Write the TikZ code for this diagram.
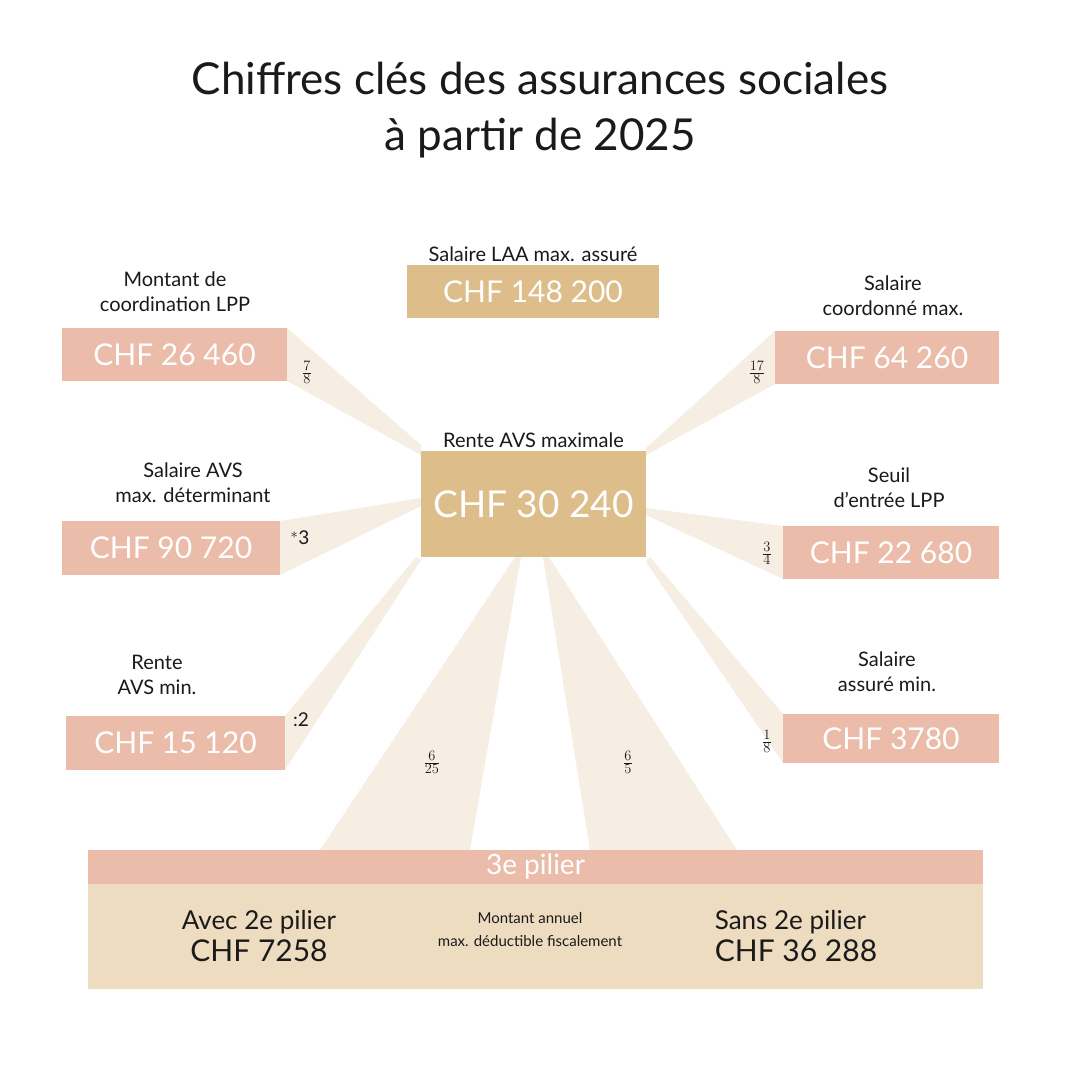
\documentclass[tikz,border=0pt]{standalone}
\usepackage{fontspec}
\setmainfont{Lato}
\definecolor{gold}{HTML}{DDBE8A}
\definecolor{pinkb}{HTML}{EBBCA9}
\definecolor{fan}{HTML}{F6EEE3}
\definecolor{body}{HTML}{EEDCC1}
\definecolor{txt}{HTML}{1A1A1A}
\begin{document}
\begin{tikzpicture}[x=1pt,y=-1pt,
  lbl/.style={font=\fontsize{20}{25}\selectfont,text=txt,align=center},
  num/.style={font=\fontsize{30}{34}\selectfont,text=white},
  frac/.style={font=\fontsize{19}{22}\selectfont,text=txt},
  fanf/.style={fill=fan}]
\useasboundingbox (0,0) rectangle (1080,1080);
\fill[white] (0,0) rectangle (1080,1080);
% fans
\fill[fanf] (287,328) -- (287,381) -- (421,455) -- (421,445) -- cycle;
\fill[fanf] (280,521) -- (280,575) -- (421,506) -- (421,498) -- cycle;
\fill[fanf] (285,716) -- (285,770) -- (421,560) -- (416,557) -- cycle;
\fill[fanf] (775,331) -- (775,384) -- (646,455) -- (646,448) -- cycle;
\fill[fanf] (783,526) -- (783,579) -- (646,515) -- (646,508) -- cycle;
\fill[fanf] (783,714) -- (783,763) -- (646,562) -- (650,557) -- cycle;
\fill[fanf] (515,557) -- (320,850) -- (470,850) -- (521,557) -- cycle;
\fill[fanf] (543,557) -- (590,850) -- (737,850) -- (549,557) -- cycle;
% title
\node[font=\fontsize{44}{56}\selectfont,text=txt,align=center] (title) at (540,110) {Chiffres clés des assurances sociales\\à partir de 2025};
% boxes
\node[fill=gold,minimum width=252,minimum height=53,inner sep=0,num] (laa) at (533,291.5) {CHF 148 200};
\node[lbl,anchor=south] (laal) at (laa.north) {Salaire LAA max. assuré};
\node[fill=gold,minimum width=225,minimum height=106,inner sep=0,font=\fontsize{37}{40}\selectfont,text=white] (avs) at (533.5,504) {CHF 30 240};
\node[lbl,anchor=south] (avsl) at (avs.north) {Rente AVS maximale};
\node[fill=pinkb,minimum width=225,minimum height=53,inner sep=0,num] (coord) at (174.5,354.5) {CHF 26 460};
\node[lbl] (coordl) at (175,292) {Montant de\\coordination LPP};
\node[fill=pinkb,minimum width=218,minimum height=54,inner sep=0,num] (sal) at (171,548) {CHF 90 720};
\node[lbl] (sall) at (193,483) {Salaire AVS\\max. déterminant};
\node[fill=pinkb,minimum width=219,minimum height=54,inner sep=0,num] (rmin) at (175.5,743) {CHF 15 120};
\node[lbl] (rminl) at (157,675) {Rente\\AVS min.};
\node[fill=pinkb,minimum width=224,minimum height=53,inner sep=0,num] (scm) at (887,357.5) {CHF 64 260};
\node[lbl] (scml) at (893,296) {Salaire\\coordonné max.};
\node[fill=pinkb,minimum width=216,minimum height=53,inner sep=0,num] (seuil) at (891,552.5) {CHF 22 680};
\node[lbl] (seuill) at (889,488) {Seuil\\d’entrée LPP};
\node[fill=pinkb,minimum width=216,minimum height=49,inner sep=0,num] (sam) at (891,738.5) {CHF 3780};
\node[lbl] (saml) at (887,672) {Salaire\\assuré min.};
% fractions
\node[frac] (f1) at (307,372) {$\frac{7}{8}$};
\node[frac] (f2) at (757,372) {$\frac{17}{8}$};
\node[frac] (f3) at (300,538) {$^*$3};
\node[frac] (f4) at (767,553) {$\frac{3}{4}$};
\node[frac] (f5) at (301,720) {:2};
\node[frac] (f6) at (767,741) {$\frac{1}{8}$};
\node[frac] (f7) at (432,762) {$\frac{6}{25}$};
\node[frac] (f8) at (628,762) {$\frac{6}{5}$};
% bottom
\fill[body] (88,884) rectangle (983,989);
\node[fill=pinkb,minimum width=895,minimum height=34,inner sep=0,font=\fontsize{28}{30}\selectfont,text=white] (p3) at (535.5,867) {3e pilier};
\node[font=\fontsize{26}{30}\selectfont,text=txt,align=center] (avec) at (259,936) {Avec 2e pilier\\[2pt]\fontsize{30}{32}\selectfont CHF 7258};
\node[font=\fontsize{26}{30}\selectfont,text=txt,align=left] (sans) at (796,936) {Sans 2e pilier\\[2pt]\fontsize{30}{32}\selectfont CHF 36 288};
\node[font=\fontsize{15}{23}\selectfont,text=txt,align=center] (mont) at (530,930) {Montant annuel\\max. déductible fiscalement};
\end{tikzpicture}
\end{document}
